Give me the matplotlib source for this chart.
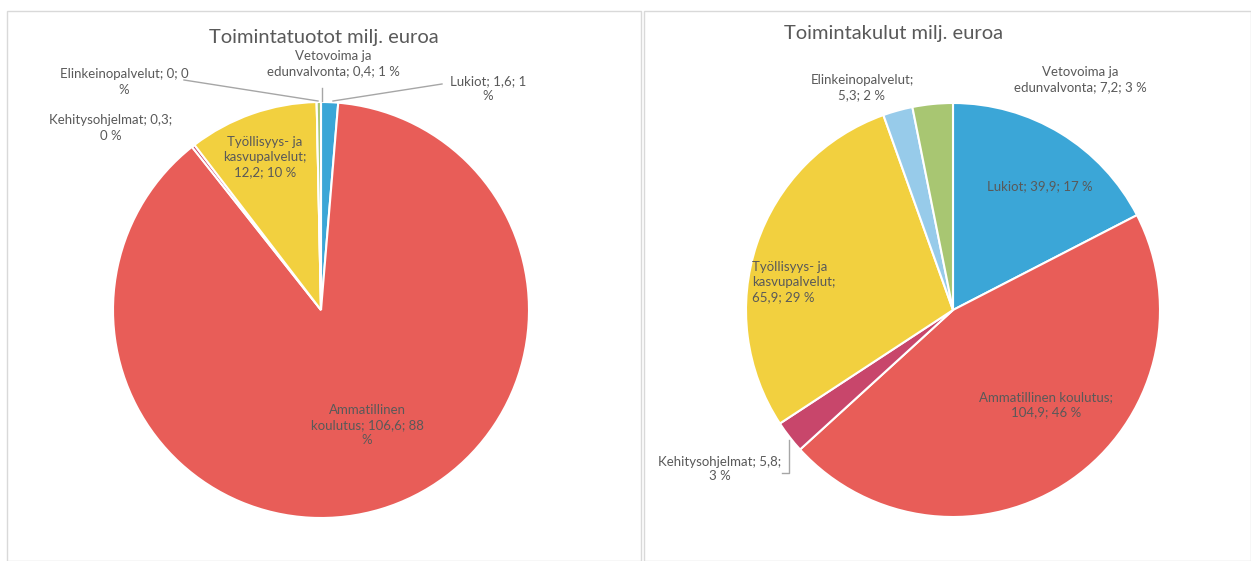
import matplotlib.pyplot as plt
from matplotlib.patches import Rectangle

plt.rcParams['font.family'] = ['Lato', 'DejaVu Sans']

# data (order clockwise from 12 o'clock)
categories = ['Lukiot', 'Ammatillinen koulutus', 'Kehitysohjelmat',
              'Työllisyys- ja kasvupalvelut', 'Elinkeinopalvelut',
              'Vetovoima ja edunvalvonta']
tuotot = [1.6, 106.6, 0.3, 12.2, 0.0, 0.4]
kulut = [39.9, 104.9, 5.8, 65.9, 5.3, 7.2]
tuotot_labels = ['Lukiot; 1,6; 1\n%',
                 'Ammatillinen\nkoulutus; 106,6; 88\n%',
                 'Kehitysohjelmat; 0,3;\n0 %',
                 'Työllisyys- ja\nkasvupalvelut;\n12,2; 10 %',
                 'Elinkeinopalvelut; 0; 0\n%',
                 'Vetovoima ja\nedunvalvonta; 0,4; 1 %']
kulut_labels = ['Lukiot; 39,9; 17 %',
                'Ammatillinen koulutus;\n104,9; 46 %',
                'Kehitysohjelmat; 5,8;\n3 %',
                'Työllisyys- ja\nkasvupalvelut;\n65,9; 29 %',
                'Elinkeinopalvelut;\n5,3; 2 %',
                'Vetovoima ja\nedunvalvonta; 7,2; 3 %']
colors = ['#3BA6D7', '#E85D58', '#C8466B', '#F2D03F', '#97CBEA', '#A8C672']

W, H = 1251, 561
fig = plt.figure(figsize=(W / 100, H / 100), dpi=100)
fig.patch.set_facecolor('white')

# panel borders
for x0, x1 in [(7, 641), (644, 1251)]:
    fig.patches.append(Rectangle((x0 / W, 0), (x1 - x0) / W, (H - 11) / H,
                                 transform=fig.transFigure, fill=False,
                                 edgecolor='#D9D9D9', linewidth=1))

txt = '#595959'
line = '#A6A6A6'


def make_ax(x0, x1, cx, cy, R):
    ax = fig.add_axes([x0 / W, 0, (x1 - x0) / W, 1])
    ax.axis('off')
    return ax


def fix_limits(ax, x0, x1, cx, cy, R):
    ax.set_xlim(-(cx - x0) / R, (x1 - cx) / R)
    ax.set_ylim(-(H - cy) / R, cy / R)
    ax.set_aspect('auto')


def px(cx, cy, R, x, y):
    return ((x - cx) / R, (cy - y) / R)


kw = dict(ha='center', va='center', fontsize=9.5, color=txt, linespacing=1.3)

# left chart
cx, cy, R = 321, 310, 208
ax1 = make_ax(7, 641, cx, cy, R)
ax1.pie(tuotot, colors=colors, startangle=90, counterclock=False,
        wedgeprops=dict(edgecolor='white', linewidth=1.5))
fix_limits(ax1, 7, 641, cx, cy, R)
ax1.text(*px(cx, cy, R, 324, 37), 'Toimintatuotot milj. euroa', ha='center',
         va='center', fontsize=14.5, color=txt)
ax1.text(*px(cx, cy, R, 488, 89), tuotot_labels[0], **kw)
ax1.text(*px(cx, cy, R, 367, 425), tuotot_labels[1], **kw)
ax1.text(*px(cx, cy, R, 111, 128), tuotot_labels[2], **kw)
ax1.text(*px(cx, cy, R, 265, 157), tuotot_labels[3], **kw)
ax1.text(*px(cx, cy, R, 124, 82), tuotot_labels[4], **kw)
ax1.text(*px(cx, cy, R, 333, 64), tuotot_labels[5], **kw)
for pts in [[(442, 84), (333, 101)], [(184, 80), (318, 101)],
            [(322, 88), (322, 101)]]:
    xs, ys = zip(*[px(cx, cy, R, *p) for p in pts])
    ax1.plot(xs, ys, color=line, lw=1)

# right chart
cx, cy, R = 953, 310, 207
ax2 = make_ax(644, 1251, cx, cy, R)
ax2.pie(kulut, colors=colors, startangle=90, counterclock=False,
        wedgeprops=dict(edgecolor='white', linewidth=1.5))
fix_limits(ax2, 644, 1251, cx, cy, R)
ax2.text(*px(cx, cy, R, 894, 34), 'Toimintakulut milj. euroa', ha='center',
         va='center', fontsize=14.5, color=txt)
ax2.text(*px(cx, cy, R, 1040, 186), kulut_labels[0], **kw)
ax2.text(*px(cx, cy, R, 1046, 405), kulut_labels[1], **kw)
ax2.text(*px(cx, cy, R, 720, 469), kulut_labels[2], **kw)
ax2.text(*px(cx, cy, R, 752, 282), kulut_labels[3],
         **{**kw, 'ha': 'left'})
ax2.text(*px(cx, cy, R, 862, 88), kulut_labels[4], **kw)
ax2.text(*px(cx, cy, R, 1080, 80), kulut_labels[5], **kw)
xs, ys = zip(*[px(cx, cy, R, *p) for p in [(782, 473), (789, 473), (789, 440)]])
ax2.plot(xs, ys, color=line, lw=1)

fig.savefig('out.png', dpi=100)
